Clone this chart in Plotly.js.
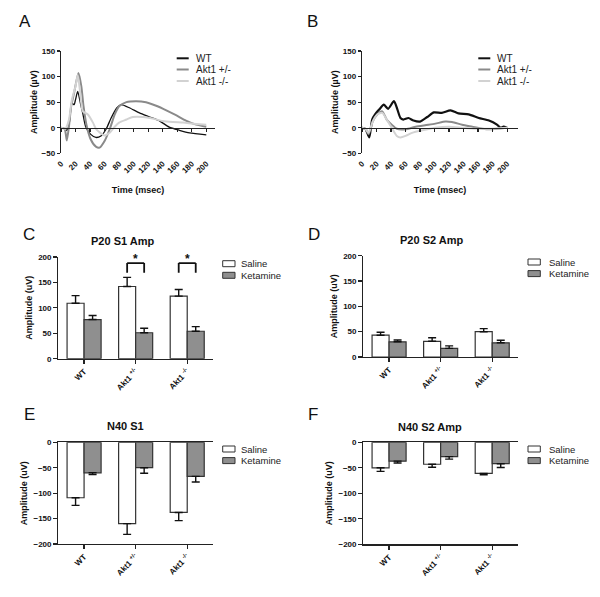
<!DOCTYPE html>
<html><head><meta charset="utf-8">
<script src="https://cdn.plot.ly/plotly-3.0.1.min.js"></script>
<style>html,body{margin:0;padding:0;background:#fff}#chart{width:600px;height:597px}</style>
</head><body><div id="chart"></div>
<script>
// ---------- DATA ----------
const seriesNames = ['WT', 'Akt1 +/-', 'Akt1 -/-'];
const timeTicks = [0, 20, 40, 60, 80, 100, 120, 140, 160, 180, 200];

// Panel A: averaged traces (time ms, amplitude uV)
const A_WT_t  = [0,5,8,11,15,18,20,23,27,30,34,41,48,55,62,69,77,83,94,108,122,136,149,163,177,200];
const A_WT_v  = [0,-2,-5,5,48,45,55,71,46,28,2,-13,-19,-16,-3,19,39,45,39,29,21,13,1,-5,-10,-14];
const A_HET_t = [0,5,8,11,14,18,24,28,31,35,41,48,53,60,67,74,80,90,103,117,131,145,159,172,186,200];
const A_HET_v = [0,-2,-25,3,42,68,107,81,42,6,-23,-37,-39,-26,-3,26,42,50,52,50,43,34,24,14,6,2];
const A_KO_t  = [0,6,11,15,20,23,26,30,37,44,48,54,60,67,74,80,90,99,113,126,140,154,168,182,200];
const A_KO_v  = [0,-2,16,55,81,103,74,32,26,10,-2,-10,-15,-10,2,10,16,21,21,18,13,11,10,8,6];

// Panel B
const B_WT_t  = [0,5,10,14,18,24,30,36,44,48,53,57,64,71,80,90,99,110,122,133,147,161,175,186,191,195,200];
const B_WT_v  = [0,-3,-19,16,26,36,45,37,52,39,19,16,19,14,12,21,30,29,34,28,26,19,14,6,0,2,0];
const B_HET_t = [0,5,9,15,21,28,34,41,48,60,74,87,101,115,124,138,152,166,179,193,200];
const B_HET_v = [0,-2,-13,13,26,32,16,6,-2,-3,2,5,8,12,11,6,2,-2,-3,-1,0];
const B_KO_t  = [0,5,9,15,21,28,34,41,48,53,60,69,83,101,120,138,156,175,200];
const B_KO_v  = [0,-3,-10,13,26,29,16,0,-16,-19,-16,-10,-5,0,2,0,-2,-2,0];

// Bar panels
const categories = ['WT', 'Akt1 +/-', 'Akt1 -/-'];
const catTickText = ['WT', 'Akt1 <sup>+/-</sup>', 'Akt1 <sup>-/-</sup>'];
const groupNames = ['Saline', 'Ketamine'];

const C_saline = [109, 142, 123];   const C_saline_sem = [15, 18, 13];
const C_ket    = [77, 51, 54];      const C_ket_sem    = [8, 9, 9];
const D_saline = [43, 31, 50];      const D_saline_sem = [6, 7, 6];
const D_ket    = [30, 17, 28];      const D_ket_sem    = [3.5, 5, 5];
const E_saline = [-109, -160, -138]; const E_saline_sem = [15, 21, 16];
const E_ket    = [-60, -50, -67];    const E_ket_sem    = [3.5, 11, 11];
const F_saline = [-50, -43, -61];    const F_saline_sem = [7, 6, 2.5];
const F_ket    = [-37, -28, -42];    const F_ket_sem    = [3.5, 5, 7.5];

const C_significant = ['Akt1 +/-', 'Akt1 -/-'];
const sigLevel = 188;

const panelTitles = ['P20 S1 Amp', 'P20 S2 Amp', 'N40 S1', 'N40 S2 Amp'];
const panelLetters = ['A', 'B', 'C', 'D', 'E', 'F'];

// ---------- STYLE ----------
const W = 600, H = 597;
const px = x => x / W;
const py = y => 1 - y / H;
const FONT = 'Liberation Sans, Arial, Helvetica, sans-serif';
const lineColors = ['#111111', '#8a8a8a', '#d2d2d2'];
const barFill = ['#ffffff', '#8f8f8f'];
const AX = '#222222';
const bargap = 0.34;

function zeros(n) { return new Array(n).fill(0); }

const traces = [];
const trA = [[A_WT_t, A_WT_v], [A_HET_t, A_HET_v], [A_KO_t, A_KO_v]];
const trB = [[B_WT_t, B_WT_v], [B_HET_t, B_HET_v], [B_KO_t, B_KO_v]];
const widthsA = [1.3, 2, 2];
const widthsB = [2.2, 2, 2];
trA.forEach((s, i) => traces.push({
  type: 'scatter', mode: 'lines', x: s[0], y: s[1], name: seriesNames[i],
  xaxis: 'x', yaxis: 'y', showlegend: false,
  line: {color: lineColors[i], width: widthsA[i], shape: 'spline', smoothing: 0.6}
}));
trB.forEach((s, i) => traces.push({
  type: 'scatter', mode: 'lines', x: s[0], y: s[1], name: seriesNames[i],
  xaxis: 'x2', yaxis: 'y2', showlegend: false,
  line: {color: lineColors[i], width: widthsB[i], shape: 'spline', smoothing: 0.6}
}));

function addBars(ax, sal, salSem, ket, ketSem, negative) {
  [[sal, salSem], [ket, ketSem]].forEach((d, i) => {
    traces.push({
      type: 'bar', x: categories, y: d[0], name: groupNames[i],
      xaxis: 'x' + ax, yaxis: 'y' + ax, showlegend: false,
      marker: {color: barFill[i], line: {color: '#333', width: 1.2}},
      error_y: {type: 'data', symmetric: false,
        array: negative ? zeros(d[1].length) : d[1],
        arrayminus: negative ? d[1] : zeros(d[1].length),
        color: '#111', thickness: 1.4, width: 4}
    });
  });
}
addBars(3, C_saline, C_saline_sem, C_ket, C_ket_sem, false);
addBars(4, D_saline, D_saline_sem, D_ket, D_ket_sem, false);
addBars(5, E_saline, E_saline_sem, E_ket, E_ket_sem, true);
addBars(6, F_saline, F_saline_sem, F_ket, F_ket_sem, true);

// ---------- AXES ----------
const tickF = {family: FONT, size: 8, color: '#111', weight: 'bold'};
const titleF = {family: FONT, size: 9, color: '#111', weight: 'bold'};

function timeX(dom, rangeMax) {
  return {domain: dom, anchor: 'free', position: py(127.7), range: [0, rangeMax],
    tickmode: 'array', tickvals: timeTicks, ticktext: timeTicks.map(String),
    tickangle: -45, ticks: 'outside', ticklen: 3, tickwidth: 1.2, tickcolor: AX,
    showline: true, linecolor: AX, linewidth: 1.2, showgrid: false, zeroline: false,
    tickfont: tickF, ticklabelstandoff: 24,
    title: {text: 'Time (msec)', font: titleF, standoff: 12}};
}
function ampY(dom, xa) {
  return {domain: dom, anchor: xa, range: [-50, 150], tickvals: [-50, 0, 50, 100, 150],
    ticks: 'outside', ticklen: 3, tickwidth: 1.2, tickcolor: AX,
    showline: true, linecolor: AX, linewidth: 1.2, showgrid: false, zeroline: false,
    tickfont: tickF, title: {text: 'Amplitude (µV)', font: titleF, standoff: 2}};
}
function catX(dom, ya, mirror) {
  return {domain: dom, anchor: ya, type: 'category', range: [-0.5, 2.5],
    tickmode: 'array', tickvals: categories, ticktext: catTickText,
    tickangle: -45, ticks: 'outside', ticklen: 4, tickwidth: 1.2, tickcolor: AX,
    showline: true, linecolor: AX, linewidth: 1.2, mirror: mirror, showgrid: false, zeroline: false,
    tickfont: tickF};
}
function barY(dom, xa, rng) {
  const vals = rng[0] < 0 ? [-200, -150, -100, -50, 0] : [0, 50, 100, 150, 200];
  return {domain: dom, anchor: xa, range: rng, tickvals: vals,
    ticks: 'outside', ticklen: 4, tickwidth: 1.2, tickcolor: AX,
    showline: true, linecolor: AX, linewidth: 1.2, showgrid: false, zeroline: false,
    tickfont: tickF, title: {text: 'Amplitude (uV)', font: titleF, standoff: 4}};
}

const layout = {
  width: W, height: H, margin: {l: 0, r: 0, t: 0, b: 0},
  paper_bgcolor: '#fff', plot_bgcolor: 'rgba(0,0,0,0)',
  font: {family: FONT, color: '#111'},
  showlegend: false, barmode: 'group', bargap: bargap, bargroupgap: 0,
  xaxis:  timeX([px(61), px(215)], 212),
  yaxis:  ampY([py(153.3), py(51)], 'x'),
  xaxis2: timeX([px(362), px(518)], 215),
  yaxis2: ampY([py(153.3), py(51)], 'x2'),
  xaxis3: catX([px(58.3), px(213)], 'y3', false),
  yaxis3: barY([py(358.7), py(257)], 'x3', [0, 200]),
  xaxis4: catX([px(363.3), px(518)], 'y4', false),
  yaxis4: barY([py(357), py(255.7)], 'x4', [0, 200]),
  xaxis5: catX([px(58.3), px(213)], 'y5', true),
  yaxis5: barY([py(544), py(442.3)], 'x5', [-200, 0]),
  xaxis6: catX([px(363.3), px(518)], 'y6', true),
  yaxis6: barY([py(544.3), py(442.3)], 'x6', [-200, 0]),
  annotations: [], shapes: []
};

const letterPos = [[25, 21], [313, 21], [29, 235], [314, 235], [29, 414], [313, 414]];
panelLetters.forEach((L, i) => layout.annotations.push({
  xref: 'paper', yref: 'paper', x: px(letterPos[i][0]), y: py(letterPos[i][1]),
  text: L, showarrow: false, xanchor: 'center', yanchor: 'middle',
  font: {family: FONT, size: 17, color: '#111'}
}));
const titlePos = [[123, 240.5], [431.7, 240], [125, 426], [430, 426.5]];
panelTitles.forEach((t, i) => layout.annotations.push({
  xref: 'paper', yref: 'paper', x: px(titlePos[i][0]), y: py(titlePos[i][1]),
  text: t, showarrow: false, xanchor: 'center', yanchor: 'middle',
  font: {family: FONT, size: 11, color: '#111', weight: 'bold'}
}));

[[176.7, 194.3], [478.3, 495]].forEach(pos => {
  [58.3, 69.5, 81].forEach((yy, i) => {
    layout.shapes.push({type: 'line', xref: 'paper', yref: 'paper',
      x0: px(pos[0]), x1: px(pos[0] + 12), y0: py(yy), y1: py(yy),
      line: {color: lineColors[i], width: 2}});
    layout.annotations.push({xref: 'paper', yref: 'paper', x: px(pos[1]), y: py(yy),
      text: seriesNames[i], showarrow: false, xanchor: 'left', yanchor: 'middle',
      font: {family: FONT, size: 10, color: '#222'}});
  });
});
[[222.7, 239, 263.7], [528, 546.7, 262], [222.7, 239, 449], [528, 546.7, 449]].forEach(pos => {
  [0, 11.6].forEach((dy, i) => {
    const yy = pos[2] + dy;
    layout.shapes.push({type: 'rect', xref: 'paper', yref: 'paper',
      x0: px(pos[0]), x1: px(pos[0] + 12.3), y0: py(yy - 3), y1: py(yy + 3),
      fillcolor: barFill[i], line: {color: '#333', width: 1}});
    layout.annotations.push({xref: 'paper', yref: 'paper', x: px(pos[1]), y: py(yy),
      text: groupNames[i], showarrow: false, xanchor: 'left', yanchor: 'middle',
      font: {family: FONT, size: 9.5, color: '#222'}});
  });
});

const off = (1 - bargap) / 4;
C_significant.forEach(cat => {
  const c = categories.indexOf(cat);
  const xl = c - off, xr = c + off, drop = 19;
  [[xl, sigLevel, xr, sigLevel], [xl, sigLevel, xl, sigLevel - drop], [xr, sigLevel, xr, sigLevel - drop]]
    .forEach(s => layout.shapes.push({type: 'line', xref: 'x3', yref: 'y3',
      x0: s[0], y0: s[1], x1: s[2], y1: s[3], line: {color: '#111', width: 1.8}}));
  layout.annotations.push({xref: 'x3', yref: 'y3', x: c, y: sigLevel + 8, text: '*',
    showarrow: false, xanchor: 'center', yanchor: 'middle',
    font: {family: FONT, size: 12, color: '#111', weight: 'bold'}});
});

Plotly.newPlot('chart', traces, layout, {staticPlot: true, displayModeBar: false});
</script></body></html>
